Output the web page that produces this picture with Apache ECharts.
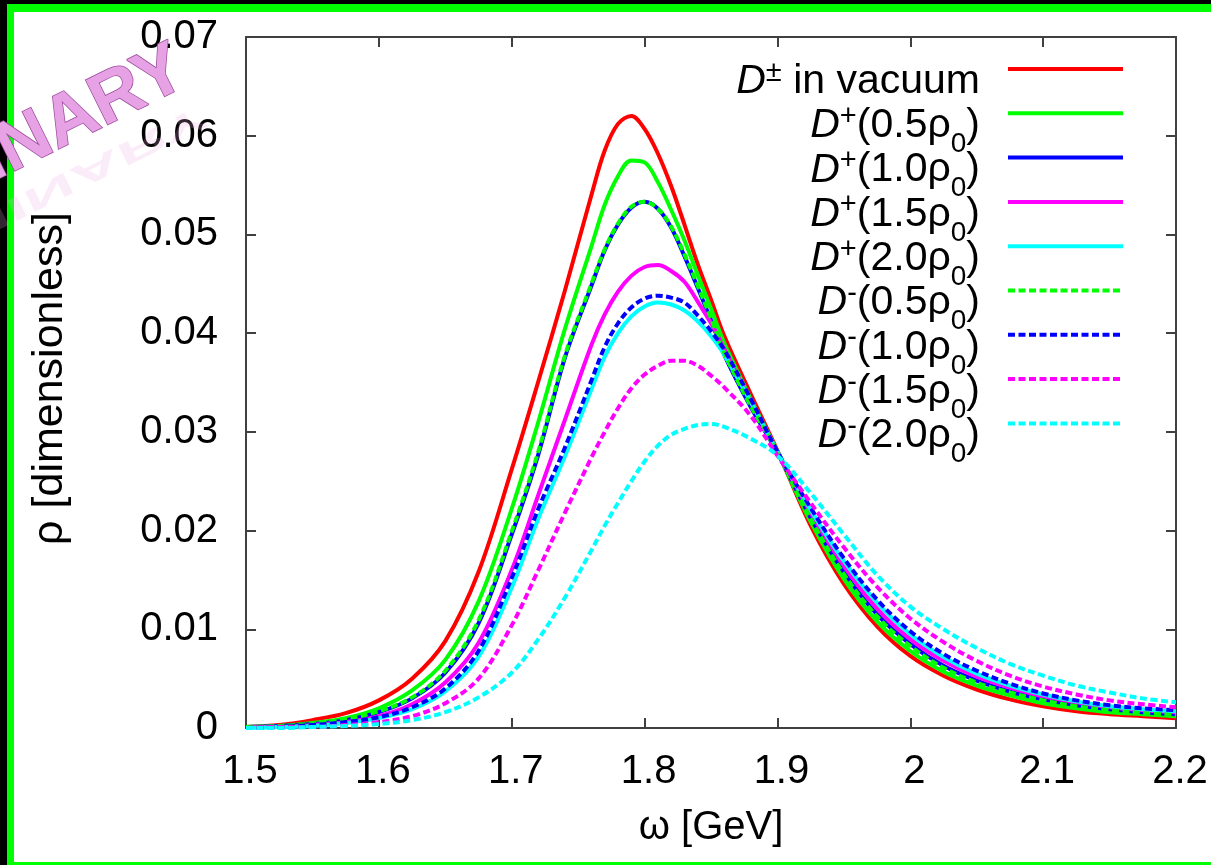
<!DOCTYPE html>
<html>
<head>
<meta charset="utf-8">
<script src="https://cdn.jsdelivr.net/npm/echarts@6/dist/echarts.min.js"></script>
<style>
  html, body { margin: 0; padding: 0; background: #000; }
  #chart { width: 1211px; height: 865px; }
</style>
</head>
<body>
<div id="chart"></div>
<script>
// Energy grid, GeV
const omega = [1.50, 1.525, 1.55, 1.575, 1.60, 1.625, 1.65, 1.675, 1.70, 1.72, 1.74, 1.76, 1.77, 1.78, 1.79, 1.80, 1.81,
               1.82, 1.83, 1.84, 1.85, 1.86, 1.88, 1.90, 1.925, 1.95, 1.975, 2.00, 2.025, 2.05, 2.075, 2.10, 2.125, 2.15, 2.175, 2.20];

// Spectral functions (dimensionless)
const vacuum  = [0.0001, 0.0003, 0.0008, 0.0015, 0.0028, 0.0050, 0.0088, 0.0158, 0.0262, 0.0351, 0.0443, 0.0540, 0.0585, 0.0612, 0.0620, 0.0607, 0.0582,
                 0.0549, 0.0510, 0.0470, 0.0434, 0.0397, 0.0338, 0.0281, 0.0205, 0.0146, 0.0103, 0.0073, 0.0053, 0.0039, 0.0029, 0.0022, 0.0017, 0.0014, 0.0012, 0.0010];
const dPlus05 = [0.0001, 0.0002, 0.0005, 0.0010, 0.0020, 0.0038, 0.0069, 0.0128, 0.0222, 0.0310, 0.0404, 0.0488, 0.0530, 0.0559, 0.0575, 0.0573, 0.0553,
                 0.0525, 0.0494, 0.0459, 0.0425, 0.0390, 0.0333, 0.0280, 0.0209, 0.0151, 0.0108, 0.0078, 0.0057, 0.0043, 0.0033, 0.0025, 0.0020, 0.0016, 0.0014, 0.0012];
const dPlus10 = [0.0001, 0.0002, 0.0004, 0.0008, 0.0016, 0.0030, 0.0056, 0.0106, 0.0196, 0.0277, 0.0375, 0.0448, 0.0484, 0.0510, 0.0527, 0.0533, 0.0526,
                 0.0507, 0.0478, 0.0446, 0.0413, 0.0378, 0.0325, 0.0279, 0.0213, 0.0158, 0.0115, 0.0085, 0.0063, 0.0048, 0.0037, 0.0029, 0.0023, 0.0019, 0.0016, 0.0014];
const dPlus15 = [0.0001, 0.0001, 0.0003, 0.0006, 0.0012, 0.0024, 0.0046, 0.0086, 0.0160, 0.0236, 0.0312, 0.0388, 0.0419, 0.0442, 0.0458, 0.0467, 0.0469,
                 0.0463, 0.0452, 0.0432, 0.0410, 0.0384, 0.0330, 0.0280, 0.0218, 0.0164, 0.0121, 0.0090, 0.0068, 0.0052, 0.0041, 0.0032, 0.0026, 0.0021, 0.0018, 0.0016];
const dPlus20 = [0.0000, 0.0001, 0.0002, 0.0005, 0.0010, 0.0019, 0.0037, 0.0072, 0.0142, 0.0212, 0.0275, 0.0343, 0.0376, 0.0400, 0.0417, 0.0427, 0.0431,
                 0.0429, 0.0423, 0.0412, 0.0397, 0.0378, 0.0330, 0.0280, 0.0221, 0.0169, 0.0127, 0.0095, 0.0072, 0.0055, 0.0043, 0.0034, 0.0027, 0.0022, 0.0019, 0.0017];
const dMinus05 = [0.0001, 0.0002, 0.0004, 0.0009, 0.0017, 0.0031, 0.0058, 0.0109, 0.0199, 0.0280, 0.0377, 0.0450, 0.0485, 0.0511, 0.0528, 0.0533, 0.0526,
                  0.0508, 0.0480, 0.0448, 0.0415, 0.0380, 0.0326, 0.0279, 0.0212, 0.0156, 0.0113, 0.0083, 0.0061, 0.0046, 0.0036, 0.0028, 0.0022, 0.0018, 0.0015, 0.0013];
const dMinus10 = [0.0000, 0.0001, 0.0003, 0.0006, 0.0011, 0.0021, 0.0040, 0.0078, 0.0152, 0.0222, 0.0284, 0.0352, 0.0386, 0.0410, 0.0426, 0.0435, 0.0438,
                  0.0436, 0.0431, 0.0418, 0.0402, 0.0383, 0.0333, 0.0280, 0.0223, 0.0172, 0.0130, 0.0098, 0.0075, 0.0058, 0.0045, 0.0035, 0.0028, 0.0023, 0.0020, 0.0018];
const dMinus15 = [0.0000, 0.0001, 0.0001, 0.0003, 0.0006, 0.0012, 0.0025, 0.0050, 0.0104, 0.0160, 0.0218, 0.0274, 0.0300, 0.0324, 0.0344, 0.0358, 0.0367,
                  0.0372, 0.0372, 0.0367, 0.0357, 0.0345, 0.0316, 0.0276, 0.0228, 0.0183, 0.0143, 0.0111, 0.0087, 0.0068, 0.0053, 0.0042, 0.0034, 0.0028, 0.0024, 0.0021];
const dMinus20 = [0.0000, 0.0000, 0.0001, 0.0002, 0.0004, 0.0008, 0.0016, 0.0031, 0.0056, 0.0090, 0.0132, 0.0180, 0.0205, 0.0228, 0.0250, 0.0270, 0.0286,
                  0.0297, 0.0303, 0.0307, 0.0308, 0.0305, 0.0293, 0.0276, 0.0238, 0.0196, 0.0155, 0.0123, 0.0100, 0.0081, 0.0065, 0.0053, 0.0043, 0.0036, 0.0030, 0.0026];

// Tick labels
const xTickLabels = ['1.5', '1.6', '1.7', '1.8', '1.9', '2', '2.1', '2.2'];
const yTickLabels = ['0', '0.01', '0.02', '0.03', '0.04', '0.05', '0.06', '0.07'];

// Series names and their legend markup
const seriesNames = ['D\u00b1 in vacuum', 'D+(0.5\u03c10)', 'D+(1.0\u03c10)', 'D+(1.5\u03c10)', 'D+(2.0\u03c10)',
                     'D-(0.5\u03c10)', 'D-(1.0\u03c10)', 'D-(1.5\u03c10)', 'D-(2.0\u03c10)'];
const legendMarkup = [
  '{d|D}{sup|\u00b1}{t| in vacuum}{e| }',
  '{d|D}{sup|+}{t|(0.5\u03c1}{sub|0}{t|)}{e| }',
  '{d|D}{sup|+}{t|(1.0\u03c1}{sub|0}{t|)}{e| }',
  '{d|D}{sup|+}{t|(1.5\u03c1}{sub|0}{t|)}{e| }',
  '{d|D}{sup|+}{t|(2.0\u03c1}{sub|0}{t|)}{e| }',
  '{d|D}{sup|-}{t|(0.5\u03c1}{sub|0}{t|)}{e| }',
  '{d|D}{sup|-}{t|(1.0\u03c1}{sub|0}{t|)}{e| }',
  '{d|D}{sup|-}{t|(1.5\u03c1}{sub|0}{t|)}{e| }',
  '{d|D}{sup|-}{t|(2.0\u03c1}{sub|0}{t|)}{e| }'
];
const seriesValues = [vacuum, dPlus05, dPlus10, dPlus15, dPlus20, dMinus05, dMinus10, dMinus15, dMinus20];
const seriesColors = ['#ff0000', '#00ff00', '#0000ff', '#ff00ff', '#00ffff', '#00ff00', '#0000ff', '#ff00ff', '#00ffff'];
const seriesDashed = [false, false, false, false, false, true, true, true, true];

const FONT = "'Liberation Sans', Arial, Helvetica, sans-serif";
const AXIS_COLOR = '#404040';
const X_MIN = 1.5, X_MAX = 2.2, X_STEP = 0.1;
const Y_MIN = 0, Y_MAX = 0.07, Y_STEP = 0.01;

const chart = echarts.init(document.getElementById('chart'), null, { renderer: 'canvas' });

const series = seriesNames.map((name, i) => ({
  name: name,
  type: 'line',
  data: omega.map((w, k) => [w, seriesValues[i][k]]),
  showSymbol: false,
  symbol: 'none',
  smooth: 0.35,
  clip: true,
  itemStyle: { color: seriesColors[i] },
  lineStyle: {
    color: seriesColors[i],
    width: 4,
    type: seriesDashed[i] ? [7, 3.5] : 'solid',
    cap: 'butt',
    join: 'round'
  },
  emphasis: { disabled: true },
  z: 2
}));

const tickStyle = { inside: true, length: 10, lineStyle: { color: AXIS_COLOR, width: 2 } };
const lineStyleAxis = { show: true, onZero: false, lineStyle: { color: AXIS_COLOR, width: 2 } };

const richBase = { fontFamily: FONT, color: '#000' };
const legendRich = {
  d:   Object.assign({}, richBase, { fontStyle: 'italic', fontSize: 41, lineHeight: 40, verticalAlign: 'top', padding: [12, 0, 12, 0] }),
  t:   Object.assign({}, richBase, { fontSize: 41, lineHeight: 40, verticalAlign: 'top', padding: [12, 0, 12, 0] }),
  sup: Object.assign({}, richBase, { fontSize: 29, lineHeight: 28, verticalAlign: 'top', padding: [9, 0, 27, 0] }),
  sub: Object.assign({}, richBase, { fontSize: 28, lineHeight: 27, verticalAlign: 'top', padding: [37, 0, 0, 0] }),
  e:   Object.assign({}, richBase, { fontSize: 41, lineHeight: 40, width: 23, verticalAlign: 'top', padding: [12, 0, 12, 0] })
};

const option = {
  animation: false,
  backgroundColor: '#000',
  textStyle: { fontFamily: FONT },
  grid: {
    left: 246, right: 35, top: 37, bottom: 137,
    containLabel: false,
    outerBoundsMode: 'none'
  },
  graphic: [
    // green frame and white page
    { type: 'rect', z: -10, silent: true, shape: { x: 7, y: 4, width: 1204, height: 861 }, style: { fill: '#00ff00' } },
    { type: 'rect', z: -9, silent: true, shape: { x: 14, y: 12, width: 1197, height: 850 }, style: { fill: '#ffffff' } },
    // watermark reflection (faint, fading downwards)
    {
      type: 'text', z: 99, silent: true,
      x: 198, y: 98, rotation: 0.46, scaleY: -0.45,
      style: {
        text: 'PRELIMINARY', align: 'right', verticalAlign: 'bottom',
        font: "bold 72px 'Liberation Sans', Arial, sans-serif",
        fill: 'rgba(236, 170, 234, 0.22)'
      }
    },
    // watermark
    {
      type: 'text', z: 100, silent: true,
      x: 198, y: 98, rotation: 0.46,
      style: {
        text: 'PRELIMINARY', align: 'right', verticalAlign: 'bottom',
        font: "bold 72px 'Liberation Sans', Arial, sans-serif",
        fill: '#e7a2e5', stroke: '#9a4a9a', lineWidth: 1.5
      }
    }
  ],
  legend: {
    show: true,
    orient: 'vertical',
    align: 'right',
    right: 81,
    top: 44,
    padding: 5,
    itemWidth: 115,
    itemHeight: 14,
    itemGap: -20.7,
    selectedMode: false,
    data: seriesNames,
    formatter: (name) => legendMarkup[seriesNames.indexOf(name)],
    itemStyle: { opacity: 0 },
    lineStyle: { width: 4 },
    textStyle: { fontFamily: FONT, fontSize: 41, color: '#000', rich: legendRich }
  },
  xAxis: [
    {
      type: 'value', min: X_MIN, max: X_MAX, interval: X_STEP, position: 'bottom',
      name: '\u03c9 [GeV]', nameLocation: 'middle', nameGap: 80, nameMoveOverlap: false,
      nameTextStyle: { fontFamily: FONT, fontSize: 40, color: '#000' },
      axisLine: lineStyleAxis, axisTick: tickStyle, splitLine: { show: false },
      axisLabel: {
        margin: 24, fontFamily: FONT, fontSize: 40, color: '#000', padding: [0, 0, 0, 8],
        formatter: (v) => xTickLabels[Math.round((v - X_MIN) / X_STEP)]
      }
    },
    {
      type: 'value', min: X_MIN, max: X_MAX, interval: X_STEP, position: 'top',
      axisLine: lineStyleAxis, axisTick: tickStyle, splitLine: { show: false },
      axisLabel: { show: false }
    }
  ],
  yAxis: [
    {
      type: 'value', min: Y_MIN, max: Y_MAX, interval: Y_STEP, position: 'left',
      name: '\u03c1 [dimensionless]', nameLocation: 'middle', nameGap: 174, nameRotate: 90, nameMoveOverlap: false,
      nameTextStyle: { fontFamily: FONT, fontSize: 43, color: '#000', padding: [0, 0, 0, 8] },
      axisLine: lineStyleAxis, axisTick: tickStyle, splitLine: { show: false },
      axisLabel: {
        margin: 28, fontFamily: FONT, fontSize: 40, color: '#000',
        formatter: (v) => yTickLabels[Math.round((v - Y_MIN) / Y_STEP)]
      }
    },
    {
      type: 'value', min: Y_MIN, max: Y_MAX, interval: Y_STEP, position: 'right',
      axisLine: lineStyleAxis, axisTick: tickStyle, splitLine: { show: false },
      axisLabel: { show: false }
    }
  ],
  series: series
};

chart.setOption(option);
</script>
</body>
</html>
